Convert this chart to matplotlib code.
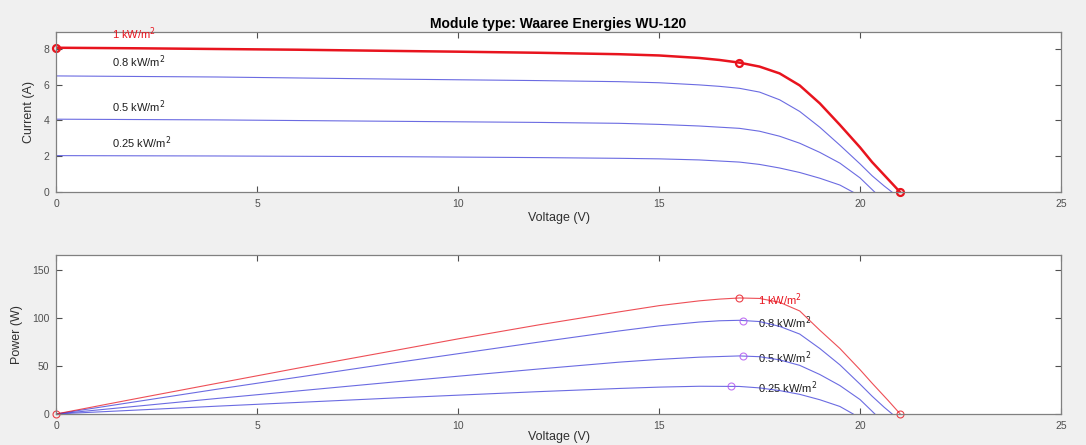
import numpy as np
import matplotlib.pyplot as plt

plt.rcParams['font.family'] = ['Liberation Sans', 'DejaVu Sans']

# irradiance levels (kW/m^2) and the curves
levels = [1.0, 0.8, 0.5, 0.25]
level_labels = ['1 kW/m$^2$', '0.8 kW/m$^2$', '0.5 kW/m$^2$', '0.25 kW/m$^2$']

v_1000 = [0, 2, 4, 6, 8.5, 10, 12, 14, 15, 16, 16.5, 17, 17.5, 18, 18.5, 19, 19.5, 20, 20.3, 20.7, 21.0]
i_1000 = [8.05, 8.02, 7.98, 7.94, 7.87, 7.83, 7.77, 7.69, 7.62, 7.48, 7.37, 7.22, 7.0, 6.62, 5.95, 4.95,
          3.75, 2.5, 1.68, 0.72, 0]
p_1000 = [0, 16.0, 31.8, 47.5, 66.5, 78.0, 92.5, 106.0, 112.5, 117.5, 119.3, 120.5, 120.0, 116.0, 107.0,
          87.0, 68.0, 46.0, 32.0, 14.0, 0]

v_800 = [0, 4, 8.5, 12, 14, 15, 16, 16.5, 17, 17.5, 18, 18.5, 19, 19.5, 20, 20.3, 20.6, 20.8]
i_800 = [6.48, 6.42, 6.30, 6.22, 6.16, 6.10, 5.98, 5.90, 5.79, 5.58, 5.15, 4.50, 3.62, 2.62, 1.58, 0.92,
         0.35, 0]
p_800 = [0, 25.7, 53.6, 74.6, 86.2, 91.5, 95.5, 96.8, 97.3, 96.0, 91.0, 83.0, 68.0, 51.0, 31.0, 18.5,
         7.0, 0]

v_500 = [0, 4, 8.5, 12, 14, 15, 16, 17, 17.5, 18, 18.5, 19, 19.5, 20, 20.37]
i_500 = [4.07, 4.03, 3.95, 3.89, 3.84, 3.78, 3.69, 3.56, 3.40, 3.12, 2.73, 2.22, 1.62, 0.80, 0]
p_500 = [0, 16.1, 33.6, 46.7, 53.8, 56.7, 59.0, 60.3, 59.5, 56.2, 50.5, 41.0, 29.5, 15.0, 0]

v_250 = [0, 4, 8.5, 12, 14, 15, 16, 17, 17.5, 18, 18.5, 19, 19.5, 19.83]
i_250 = [2.04, 2.02, 1.98, 1.93, 1.89, 1.86, 1.80, 1.68, 1.55, 1.35, 1.10, 0.78, 0.40, 0]
p_250 = [0, 8.1, 16.8, 23.2, 26.5, 27.9, 28.8, 28.6, 27.1, 24.3, 20.4, 14.8, 7.8, 0]

# marked points
iv_marks_v = [0, 17.0, 21.0]
iv_marks_i = [8.05, 7.22, 0]
mpp_v = [17.0, 17.08, 17.08, 16.8]
mpp_p = [120.5, 96.6, 60.0, 29.3]
voc_1000 = 21.0

voltages = [v_1000, v_800, v_500, v_250]
currents = [i_1000, i_800, i_500, i_250]
powers = [p_1000, p_800, p_500, p_250]

fig = plt.figure(figsize=(10.86, 4.45), dpi=100, facecolor='#f0f0f0')
ax1 = fig.add_axes([0.0516, 0.568, 0.9254, 0.359])
ax2 = fig.add_axes([0.0516, 0.0697, 0.9254, 0.357])

blue = '#3a3ad8'
red = '#e8141e'
tick_col = '#505050'

# I-V plot
for k in range(1, len(levels)):
    ax1.plot(voltages[k], currents[k], color=blue, lw=0.8, alpha=0.75)
ax1.plot(v_1000, i_1000, color=red, lw=1.8)
ax1.plot(iv_marks_v, iv_marks_i, 'o', color=red, ms=5, mfc='none', mew=1.6, clip_on=False)

iv_label_y = [8.85, 7.25, 4.75, 2.75]
for k, lab in enumerate(level_labels):
    ax1.text(1.4, iv_label_y[k], lab, fontsize=8, va='center',
             color=red if k == 0 else '#202020')

ax1.set_xlim(0, 25)
ax1.set_ylim(0, 8.9)
ax1.set_yticks([0, 2, 4, 6, 8])
ax1.set_ylabel('Current (A)', fontsize=9, color='#303030', labelpad=6)
ax1.set_xlabel('Voltage (V)', fontsize=9, color='#303030', labelpad=2)
ax1.set_title('Module type: Waaree Energies WU-120', fontsize=10, fontweight='bold', pad=3)

# P-V plot
for k in range(1, len(levels)):
    ax2.plot(voltages[k], powers[k], color=blue, lw=0.8, alpha=0.75)
ax2.plot(v_1000, p_1000, color=red, lw=0.8, alpha=0.75)
ax2.plot(mpp_v[:1], mpp_p[:1], 'o', color=red, ms=5, mfc='none', mew=0.8, alpha=0.8)
ax2.plot(mpp_v[1:], mpp_p[1:], 'o', color='#b050f0', ms=5, mfc='none', mew=0.8, alpha=0.8)
ax2.plot([0, voc_1000], [0, 0], 'o', color=red, ms=5, mfc='none', mew=0.8, alpha=0.8, clip_on=False)

for k, lab in enumerate(level_labels):
    ax2.text(17.45, mpp_p[k] - 1.5, lab, fontsize=8, va='center', zorder=1,
             color=red if k == 0 else '#202020')

ax2.set_xlim(0, 25)
ax2.set_ylim(0, 165)
ax2.set_yticks([0, 50, 100, 150])
ax2.set_ylabel('Power (W)', fontsize=9, color='#303030', labelpad=6)
ax2.set_xlabel('Voltage (V)', fontsize=9, color='#303030', labelpad=0)

for ax in (ax1, ax2):
    ax.set_facecolor('white')
    ax.set_xticks([0, 5, 10, 15, 20, 25])
    ax.tick_params(direction='in', top=True, right=True, length=4, width=0.8,
                   labelsize=7.5, colors=tick_col, pad=5)
    for s in ax.spines.values():
        s.set_color('#808080')
        s.set_linewidth(0.9)

fig.savefig('out.png', dpi=100, facecolor=fig.get_facecolor())
